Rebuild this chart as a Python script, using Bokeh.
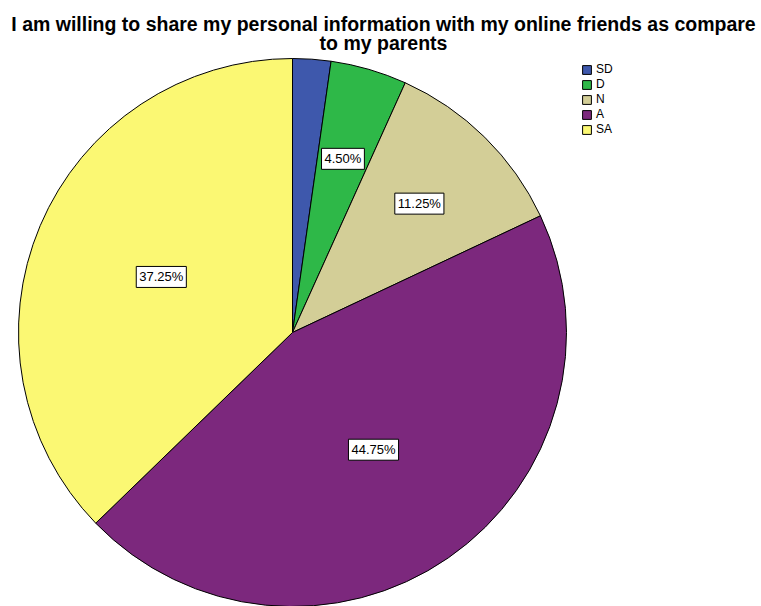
import math
from bokeh.plotting import figure
from bokeh.models import Legend, LegendItem, Label, Range1d
from bokeh.core.properties import value
from bokeh.embed import file_html
from bokeh.resources import INLINE

title_lines = ["I am willing to share my personal information with my online friends as compare",
               "to my parents"]
categories = ["SD", "D", "N", "A", "SA"]
percents = [2.25, 4.50, 11.25, 44.75, 37.25]
colors = ["#3E58AC", "#2EB848", "#D3CE97", "#7C287D", "#FBF873"]

W, H = 761, 606
cx, cy, R = 292, 332, 274  # pie centre/radius in screen pixels (top-left origin)

p = figure(width=W, height=H, output_backend="svg", toolbar_location=None,
           min_border=0, outline_line_color=None)
p.x_range = Range1d(-cx / R, (W - cx) / R)
p.y_range = Range1d(-(H - cy) / R, cy / R)
p.axis.visible = False
p.grid.visible = False
p.background_fill_color = "white"

total = sum(percents)
starts, ends, mids = [], [], []
cum = 0.0
for v in percents:
    a0 = math.pi / 2 - 2 * math.pi * cum / total
    cum += v
    a1 = math.pi / 2 - 2 * math.pi * cum / total
    starts.append(a0)
    ends.append(a1)
    mids.append((a0 + a1) / 2)

renderers = []
for i, c in enumerate(categories):
    r = p.wedge(x=0, y=0, radius=1, start_angle=starts[i], end_angle=ends[i],
                direction="clock", fill_color=colors[i], line_color="#000000",
                line_width=1)
    renderers.append(r)

lx, ly, lt = [], [], []
for v, m in zip(percents, mids):
    if v < 3:
        continue
    f = 0.66 if v < 20 else 0.52
    lx.append(f * math.cos(m))
    ly.append(f * math.sin(m))
    lt.append(f"{v:.2f}%")
p.text(x=lx, y=ly, text=lt, text_align="center", text_baseline="middle",
       text_font=value("Liberation Sans"), text_font_size="13px", text_color="#000000",
       background_fill_color="white", border_line_color="#000000", border_line_width=1,
       padding=3)

for k, (line, base) in enumerate(zip(title_lines, [23, 42])):
    p.add_layout(Label(x=383, y=H - base, x_units="screen", y_units="screen",
                       text=line, text_align="center", text_baseline="alphabetic",
                       text_font="Liberation Sans", text_font_style="bold",
                       text_font_size="19.5px", text_color="#000000"))

legend = Legend(items=[LegendItem(label=c, renderers=[r]) for c, r in zip(categories, renderers)],
                location=(581, H - 136), glyph_width=11, glyph_height=11, label_height=11,
                spacing=1, padding=0, margin=0, label_standoff=4,
                label_text_font="Liberation Sans", label_text_font_size="12px",
                label_text_color="#000000",
                border_line_alpha=0, background_fill_alpha=0)
p.add_layout(legend)

open("out.html", "w").write(file_html(p, INLINE))
